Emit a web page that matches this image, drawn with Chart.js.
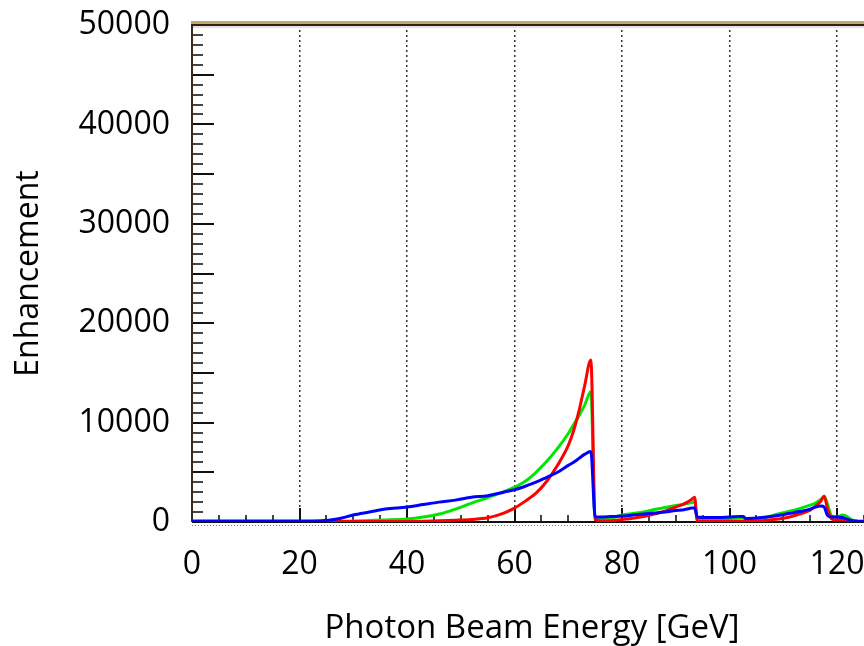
<!DOCTYPE html>
<html>
<head>
<meta charset="utf-8">
<script src="https://cdn.jsdelivr.net/npm/chart.js@4/dist/chart.umd.min.js"></script>
<style>
  html, body { margin: 0; padding: 0; background: #fff; overflow: hidden; }
  #wrap { position: absolute; left: 0; top: 0; width: 872px; height: 646px; }
</style>
</head>
<body>
<div id="wrap"><canvas id="c" width="872" height="646"></canvas></div>
<script>
// ---- data ----
const energy = [0,5,10,15,20, 24,27,30,33,36, 40,43,46,49,52, 55,58,60,62,64, 66,68,70,71,72,
  73,74.2,75,76,78, 80,82,84,86,88, 90,91,92,93,93.5, 94,96,98,100,102, 102.6,103,105,107,109,
  111,113,115,116,117, 117.6,118.2,119,120,121, 122,123,124,126,128];
const redSeries = [50,50,50,50,50, 50,50,50,50,50, 50,80,120,180,260, 420,900,1400,2100,2900,
  4100,5700,7700,9200,11200, 13600,16300,300,100,120, 250,380,550,800,1100, 1500,1700,1950,2300,2500,
  100,80,80,80,80, 80,60,100,180,300, 480,800,1200,1600,2100, 2600,1400,300,200,250, 180,100,60,50,50];
const greenSeries = [50,50,50,50,50, 50,80,100,150,200, 300,500,800,1300,1900, 2450,3050,3500,4100,5000,
  6100,7400,8900,9800,10700, 11700,13100,300,300,400, 700,850,1000,1250,1450, 1650,1750,1850,1950,2050,
  300,300,300,350,400, 400,250,300,500,800, 1050,1350,1700,1900,2300, 2600,1800,600,500,700, 500,150,100,100,100];
const blueSeries = [100,100,100,100,100, 120,300,700,1000,1300, 1500,1750,2000,2200,2500, 2650,3000,3250,3600,4000,
  4500,5000,5700,6000,6400, 6800,7100,500,500,550, 600,700,800,900,1000, 1150,1200,1300,1400,1400,
  500,450,450,500,550, 550,350,400,500,650, 850,1050,1300,1500,1600, 1500,700,500,500,450, 250,100,50,50,50];
const xTickLabels = [0,20,40,60,80,100,120];
const yTickLabels = [0,10000,20000,30000,40000,50000];
const xTitle = 'Photon Beam Energy [GeV]';
const yTitle = 'Enhancement';

const FONT = "'Open Sans', 'Liberation Sans', sans-serif";

function pts(vals) { return energy.map((e, i) => ({ x: e, y: vals[i] })); }

const framePlugin = {
  id: 'frame',
  beforeDatasetsDraw(chart) {
    const { ctx, chartArea: a, scales: { x, y } } = chart;
    ctx.save();
    // y ticks (inside, pointing right)
    for (let v = y.min; v <= y.max; v += 1000) {
      const py = Math.round(y.getPixelForValue(v));
      const major = v % 5000 === 0;
      ctx.fillStyle = major ? '#111' : '#444';
      ctx.fillRect(a.left, py - 1, major ? 22 : 11, 2);
    }
    // x ticks (inside, pointing up)
    for (let v = x.min; v <= x.max; v += 5) {
      const px = Math.round(x.getPixelForValue(v));
      const major = v % 20 === 0;
      ctx.fillStyle = major ? '#111' : '#444';
      const len = major ? 14 : 7;
      ctx.fillRect(px - 1, a.bottom - len, 2, len);
    }
    // dotted strip under axis
    ctx.strokeStyle = '#777';
    ctx.lineWidth = 1;
    ctx.setLineDash([1, 2]);
    ctx.beginPath();
    ctx.moveTo(a.left, a.bottom + 3.5);
    ctx.lineTo(a.right, a.bottom + 3.5);
    ctx.stroke();
    ctx.setLineDash([]);
    // axes
    ctx.fillStyle = '#111';
    ctx.fillRect(a.left, a.bottom - 1, a.right - a.left, 2);
    ctx.fillStyle = '#3a2a18';
    ctx.fillRect(a.left - 1, a.top, 2, a.bottom - a.top);
    ctx.restore();
  },
  afterDatasetsDraw(chart) {
    const { ctx, chartArea: a } = chart;
    ctx.save();
    ctx.fillStyle = '#c9a46e';
    ctx.fillRect(a.left - 1, a.top - 4, a.right - a.left + 1, 3);
    ctx.fillStyle = '#2b2116';
    ctx.fillRect(a.left - 1, a.top - 1, a.right - a.left + 1, 2);
    ctx.fillStyle = '#e2e2e2';
    ctx.fillRect(a.left + 1, a.top + 1, a.right - a.left, 2);
    ctx.restore();
  }
};

const ds = (label, vals, color, order) => ({
  label, data: pts(vals), borderColor: color, backgroundColor: color, order,
  borderWidth: 3, pointRadius: 0, fill: false, cubicInterpolationMode: 'monotone'
});

new Chart(document.getElementById('c'), {
  type: 'line',
  data: {
    datasets: [
      ds('red', redSeries, '#ff0000', 1),
      ds('green', greenSeries, '#00e600', 2),
      ds('blue', blueSeries, '#0000ff', 0)
    ]
  },
  options: {
    responsive: false,
    animation: false,
    events: [],
    layout: { padding: { top: 25, left: 0, right: 0, bottom: 0 } },
    plugins: { legend: { display: false }, tooltip: { enabled: false } },
    scales: {
      x: {
        type: 'linear', min: 0, max: 126.5,
        afterFit(s) { s.height = 124; s.paddingLeft = 0; s.paddingRight = 0; },
        afterBuildTicks(s) { s.ticks = xTickLabels.map(v => ({ value: v })); },
        grid: {
          drawTicks: false, lineWidth: 1.5,
          color: (c) => (c.tick && c.tick.value === 0) ? 'rgba(0,0,0,0)' : '#333'
        },
        border: { display: false, dash: [2, 3] },
        ticks: {
          autoSkip: false, maxRotation: 0, padding: 24, color: '#000',
          font: { family: FONT, size: 32 },
          callback: (v) => String(v)
        },
        title: {
          display: true, text: xTitle, color: '#000', padding: 0,
          font: { family: FONT, size: 33, lineHeight: 1.05 }
        }
      },
      y: {
        type: 'linear', min: 0, max: 50000,
        afterFit(s) { s.width = 192; s.paddingTop = 0; s.paddingBottom = 0; },
        afterBuildTicks(s) { s.ticks = yTickLabels.map(v => ({ value: v })); },
        grid: { display: false, drawTicks: false },
        border: { display: false },
        ticks: {
          padding: 22, color: '#000',
          font: { family: FONT, size: 32 },
          callback: (v) => String(v)
        },
        title: {
          display: true, text: yTitle, color: '#000', padding: { top: 11, bottom: 0 },
          font: { family: FONT, size: 32, lineHeight: 1.1 }
        }
      }
    }
  },
  plugins: [framePlugin]
});
</script>
</body>
</html>
